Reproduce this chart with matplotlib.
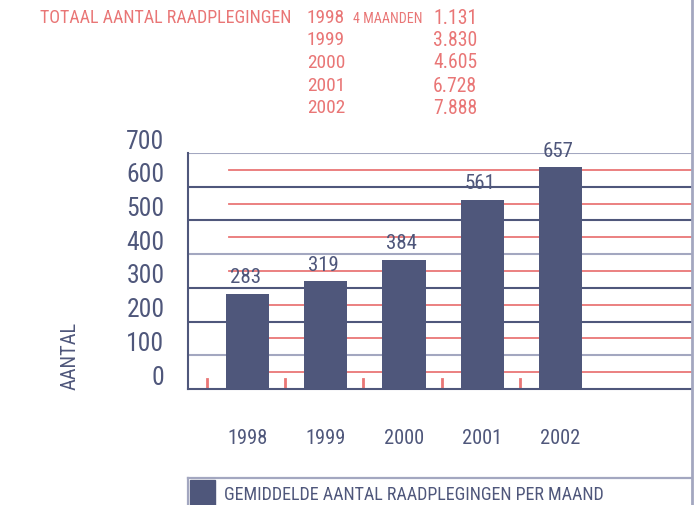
import matplotlib
matplotlib.use('Agg')
import matplotlib.pyplot as plt
from matplotlib import font_manager
from matplotlib.lines import Line2D
from matplotlib.patches import Rectangle
from matplotlib.transforms import ScaledTranslation

# data
years = ['1998', '1999', '2000', '2001', '2002']
monthly_avg = [283, 319, 384, 561, 657]
total_consults = [1131, 3830, 4605, 6728, 7888]
y_ticks = [0, 100, 200, 300, 400, 500, 600, 700]
red_levels = [50, 150, 250, 350, 450, 550, 650]

navy = '#4f577b'
light = '#a3a7c0'
red = '#e97676'

# narrow font if there is one, else Roboto
installed = {f.name for f in font_manager.fontManager.ttflist}
font = [f for f in ['Liberation Sans Narrow', 'Roboto Condensed', 'Roboto'] if f in installed]
font = font + ['DejaVu Sans']
plt.rcParams['font.family'] = font

W, H = 695, 505
fig = plt.figure(figsize=(W / 100, H / 100), dpi=100)
renderer = fig.canvas.get_renderer()


def fx(x):
    return x / W


def fy(y):
    return 1 - y / H


def fit(s, width):
    # font size that makes s about width pixels wide
    t = fig.text(0, 0, s, fontsize=20)
    w = t.get_window_extent(renderer).width
    t.remove()
    return 20 * width / w


ax = fig.add_axes([fx(188), (H - 389) / H, 504 / W, 236 / H])
ax.set_xlim(-0.76, 5.68)
ax.set_ylim(0, 700)

# horizontal grid (alternating shades) and red half-lines
for v in y_ticks[1:]:
    c = light if v in (100, 400, 700) else navy
    ax.axhline(v, color=c, lw=1.5, zorder=1)
for v in red_levels:
    ax.plot([-0.24, 5.68], [v, v], color=red, lw=1.3, zorder=1)

pos = list(range(len(years)))
ax.bar(pos, monthly_avg, width=0.55, color=navy, zorder=3)
fs_val = fit('283', 31)
for p, v in zip(pos, monthly_avg):
    ax.text(p - 0.03, v + 20, str(v), ha='center', va='bottom',
            fontsize=fs_val, color=navy)

# small red markers between bars
for p in pos:
    ax.plot([p - 0.52, p - 0.52], [0, 30], color=red, lw=2, zorder=2)

for s in ['top', 'right']:
    ax.spines[s].set_visible(False)
ax.spines['left'].set_color(navy)
ax.spines['bottom'].set_color(navy)
ax.spines['left'].set_linewidth(1.5)
ax.spines['bottom'].set_linewidth(1.5)

ax.set_yticks(y_ticks)
ax.set_yticklabels([str(v) for v in y_ticks], fontsize=fit('700', 38), color=navy)
ax.tick_params(axis='y', length=0, pad=17)
for lab in ax.get_yticklabels():
    lab.set_transform(lab.get_transform() + ScaledTranslation(0, 10 / 72, fig.dpi_scale_trans))

ax.set_xticks(pos)
ax.set_xticklabels(years, fontsize=fit('1998', 40), color=navy)
ax.tick_params(axis='x', length=0, pad=29)

fig.text(fx(70), fy(356), 'AANTAL', rotation=90, ha='center', va='center',
         fontsize=fit('AANTAL', 68), color=navy)

# header table
fig.text(fx(40), fy(18), 'TOTAAL AANTAL RAADPLEGINGEN', ha='left', va='center',
         fontsize=fit('TOTAAL AANTAL RAADPLEGINGEN', 252), color=red)
rows_y = [18, 40, 63, 86, 108]
fs_year = fit('1999', 38)
fs_tot = fit('3.830', 44)
for yr, tot, ry in zip(years, total_consults, rows_y):
    fig.text(fx(307), fy(ry), yr, ha='left', va='center', fontsize=fs_year, color=red)
    fig.text(fx(433), fy(ry), f'{tot:,}'.replace(',', '.'), ha='left', va='center',
             fontsize=fs_tot, color=red)
fig.text(fx(353), fy(19), '4 MAANDEN', ha='left', va='center',
         fontsize=fit('4 MAANDEN', 69), color=red)

# frame lines and legend
fig.add_artist(Line2D([fx(692), fx(692)], [0, 1], color=light, lw=2))
fig.add_artist(Line2D([fx(188), fx(692)], [fy(478), fy(478)], color=light, lw=1.6))
fig.add_artist(Line2D([fx(188), fx(188)], [fy(478), 0], color=light, lw=1.6))
fig.add_artist(Rectangle((fx(190), 0), 25 / W, 25 / H, color=navy, transform=fig.transFigure))
legend_txt = 'GEMIDDELDE AANTAL RAADPLEGINGEN PER MAAND'
fig.text(fx(224), fy(495), legend_txt, ha='left', va='center',
         fontsize=fit(legend_txt, 382), color=navy)

fig.savefig('out.png', dpi=100)
